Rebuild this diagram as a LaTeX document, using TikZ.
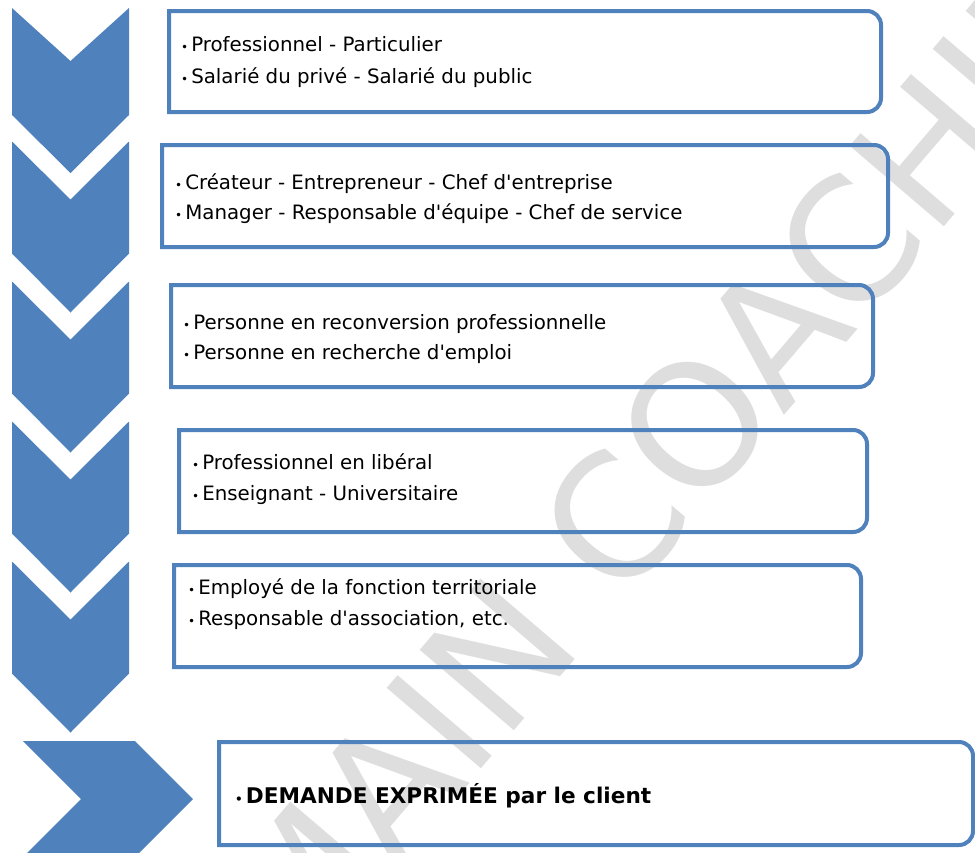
\documentclass[tikz,border=0pt]{standalone}
\usepackage{fontspec}
\setmainfont{DejaVu Sans}[Ligatures=TeXOff]
\newfontfamily\wmfont{DejaVu Sans}
\definecolor{cblue}{HTML}{4F81BD}
\definecolor{wmgray}{HTML}{DEDEDE}
\newcommand\myroundbox[4]{\draw[boxline] (#1,#4) -- (#1,#2) [rounded corners=14pt] -- (#3,#2) -- (#3,#4) [sharp corners] -- cycle;}
\newcommand\bul{{\fontsize{12}{12}\selectfont •}\hspace{3pt}}
\begin{document}
\begin{tikzpicture}[x=1pt,y=-1pt,
  chev/.style={fill=cblue,draw=none},
  boxline/.style={draw=cblue,line width=4pt,line join=miter},
  item/.style={anchor=base west,inner sep=0pt,font=\fontsize{19.8}{23}\selectfont},
  bitem/.style={anchor=base west,inner sep=0pt,font=\fontsize{21.6}{25}\selectfont\bfseries},
  wm/.style={anchor=base west,inner sep=0pt,rotate=49.5,text=wmgray,font=\wmfont\fontsize{170}{170}\selectfont}
]
\useasboundingbox (0,0) rectangle (975,852);
\clip (0,0) rectangle (975,852);
% watermark
\node[wm] (wm) at (300,982) {MAIN COACHING};
% down chevrons
\fill[chev] (12,8) -- (70.5,61) -- (129,8) -- (129,115) -- (70.5,173) -- (12,115) -- cycle;
\foreach \k in {1,...,4}{
  \pgfmathsetmacro\t{\k*140+1.5}
  \fill[chev] (12,\t) -- (70.5,\t+58) -- (129,\t) -- (129,\t+112) -- (70.5,\t+171) -- (12,\t+112) -- cycle;
}
% right chevron
\fill[chev] (23,741) -- (135,741) -- (193,799) -- (135,857) -- (23,857) -- (81,799) -- cycle;
% boxes
\myroundbox{169}{11}{881}{112}
\myroundbox{162}{145}{888}{247}
\myroundbox{171}{285}{873}{387}
\myroundbox{179}{430}{867}{532}
\myroundbox{174}{565}{861}{667}
\myroundbox{219}{742}{973}{845}
% texts
\node[item] (t1a) at (181,51) {\bul Professionnel - Particulier};
\node[item] (t1b) at (181,83) {\bul Salarié du privé - Salarié du public};
\node[item] (t2a) at (175,189) {\bul Créateur - Entrepreneur - Chef d'entreprise};
\node[item] (t2b) at (175,219) {\bul Manager - Responsable d'équipe - Chef de service};
\node[item] (t3a) at (183,329) {\bul Personne en reconversion professionnelle};
\node[item] (t3b) at (183,359) {\bul Personne en recherche d'emploi};
\node[item] (t4a) at (192,469) {\bul Professionnel en libéral};
\node[item] (t4b) at (192,500) {\bul Enseignant - Universitaire};
\node[item] (t5a) at (188,594) {\bul Employé de la fonction territoriale};
\node[item] (t5b) at (188,625) {\bul Responsable d'association, etc.};
\node[bitem] (t6) at (235,803) {\bul DEMANDE EXPRIMÉE par le client};
\end{tikzpicture}
\end{document}
